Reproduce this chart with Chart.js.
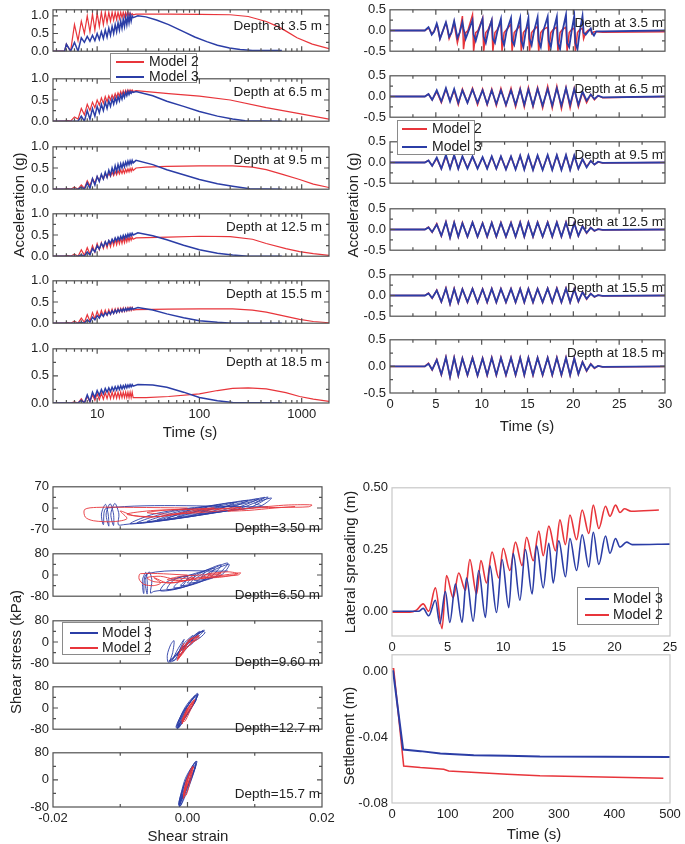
<!DOCTYPE html>
<html>
<head>
<meta charset="utf-8">
<script src="https://cdn.jsdelivr.net/npm/chart.js@4.4.1/dist/chart.umd.min.js"></script>
<style>
  body { margin: 0; background: #fff; font-family: "Liberation Sans", Arial, sans-serif; color: #222; }
  #page { position: relative; width: 685px; height: 844px; overflow: hidden; background: #fff; }
  #page canvas { position: absolute; }
  .lbl { position: absolute; white-space: nowrap; line-height: 1; }
  .legend { position: absolute; background: #fff; border: 1px solid #8a8a8a; box-sizing: border-box; }
  .legend div { position: absolute; }
  .legend span { position: absolute; white-space: nowrap; line-height: 1; font-size: 14px; transform: translateY(-50%); }
</style>
</head>
<body>
<div id="page"></div>
<script>
const RED = '#e8353b';
const BLUE = '#2b3da6';

// ---- top left: acceleration vs time (log), six depths ----
const depthsTop = ['3.5', '6.5', '9.5', '12.5', '15.5', '18.5'];
const tlLead = [[3.7, 0], [4.8, 0]];
const tlPeakT = [5, 6, 7, 8, 9, 10, 11, 12, 13, 14, 15, 16, 17, 18, 19, 20, 21, 22];
const tlTroughT = [5.5, 6.5, 7.5, 8.5, 9.5, 10.5, 11.5, 12.5, 13.5, 14.5, 15.5, 16.5, 17.5, 18.5, 19.5, 20.5, 21.5, 22.5];
const tlRedHi = [
  [0.2, 0.75, 0.85, 1.0, 1.05, 1.08, 1.1, 1.1, 1.1, 1.1, 1.1, 1.1, 1.1, 1.1, 1.1, 1.1, 1.08, 1.06],
  [0.02, 0.1, 0.3, 0.4, 0.45, 0.5, 0.55, 0.58, 0.6, 0.62, 0.65, 0.67, 0.7, 0.72, 0.73, 0.74, 0.74, 0.74],
  [0.02, 0.05, 0.1, 0.2, 0.25, 0.3, 0.33, 0.36, 0.38, 0.4, 0.42, 0.44, 0.45, 0.46, 0.47, 0.48, 0.49, 0.5],
  [0.02, 0.05, 0.15, 0.2, 0.25, 0.3, 0.32, 0.34, 0.36, 0.38, 0.4, 0.41, 0.42, 0.43, 0.44, 0.45, 0.45, 0.45],
  [0.02, 0.05, 0.12, 0.2, 0.25, 0.28, 0.3, 0.31, 0.32, 0.33, 0.34, 0.35, 0.35, 0.36, 0.36, 0.37, 0.37, 0.37],
  [0, 0.02, 0.08, 0.12, 0.15, 0.17, 0.18, 0.19, 0.2, 0.2, 0.2, 0.2, 0.2, 0.2, 0.2, 0.2, 0.2, 0.2]
];
const tlRedLo = [
  [0, 0.3, 0.5, 0.55, 0.6, 0.7, 0.75, 0.8, 0.85, 0.88, 0.9, 0.92, 0.95, 0.97, 1.0, 1.0, 1.02, 1.03],
  [0, 0.05, 0.15, 0.25, 0.32, 0.38, 0.42, 0.46, 0.5, 0.53, 0.56, 0.59, 0.62, 0.64, 0.66, 0.68, 0.7, 0.7],
  [0, 0, 0.02, 0.08, 0.15, 0.2, 0.24, 0.28, 0.3, 0.32, 0.34, 0.36, 0.37, 0.38, 0.4, 0.41, 0.42, 0.44],
  [0, 0, 0.02, 0.05, 0.1, 0.15, 0.18, 0.2, 0.22, 0.25, 0.27, 0.29, 0.3, 0.32, 0.34, 0.36, 0.38, 0.4],
  [0, 0, 0.02, 0.05, 0.1, 0.14, 0.17, 0.19, 0.21, 0.23, 0.25, 0.26, 0.27, 0.28, 0.29, 0.3, 0.3, 0.31],
  [0, 0, 0, 0.02, 0.05, 0.06, 0.07, 0.08, 0.08, 0.09, 0.09, 0.09, 0.1, 0.1, 0.1, 0.1, 0.1, 0.1]
];
const tlRedTail = [
  [[24, 1.05], [50, 1.05], [100, 1.04], [200, 1.03], [300, 0.98], [450, 0.84], [600, 0.68], [710, 0.56], [900, 0.38], [1270, 0.2], [1850, 0.07]],
  [[24, 0.72], [50, 0.65], [100, 0.59], [200, 0.5], [450, 0.32], [950, 0.18], [1850, 0.05]],
  [[24, 0.5], [30, 0.52], [48, 0.54], [100, 0.55], [211, 0.55], [330, 0.52], [450, 0.46], [650, 0.35], [955, 0.23], [1300, 0.12], [1850, 0.04]],
  [[24, 0.43], [50, 0.45], [100, 0.47], [200, 0.46], [330, 0.4], [450, 0.3], [700, 0.18], [955, 0.11], [1300, 0.06], [1850, 0.02]],
  [[24, 0.32], [50, 0.33], [100, 0.34], [211, 0.34], [330, 0.31], [450, 0.26], [700, 0.16], [955, 0.09], [1300, 0.04], [1850, 0.01]],
  [[23, 0.1], [30, 0.1], [50, 0.12], [100, 0.17], [150, 0.23], [211, 0.27], [300, 0.28], [450, 0.26], [700, 0.19], [955, 0.12], [1300, 0.07], [1850, 0.03]]
];
const tlBlueHi = [
  [0.2, 0.25, 0.38, 0.42, 0.45, 0.5, 0.55, 0.6, 0.65, 0.7, 0.75, 0.8, 0.85, 0.9, 0.95, 1.0, 1.02, 1.0],
  [0, 0, 0.12, 0.25, 0.3, 0.35, 0.4, 0.45, 0.48, 0.52, 0.55, 0.58, 0.62, 0.65, 0.68, 0.7, 0.7, 0.7],
  [0, 0, 0.05, 0.15, 0.25, 0.3, 0.35, 0.4, 0.45, 0.5, 0.55, 0.58, 0.6, 0.62, 0.64, 0.66, 0.67, 0.68],
  [0, 0, 0.03, 0.1, 0.18, 0.25, 0.3, 0.34, 0.37, 0.4, 0.43, 0.45, 0.47, 0.49, 0.5, 0.52, 0.53, 0.54],
  [0, 0, 0.02, 0.08, 0.14, 0.18, 0.22, 0.25, 0.27, 0.29, 0.31, 0.32, 0.33, 0.34, 0.35, 0.35, 0.36, 0.36],
  [0, 0, 0.05, 0.15, 0.2, 0.23, 0.25, 0.27, 0.28, 0.29, 0.3, 0.31, 0.32, 0.32, 0.33, 0.33, 0.34, 0.34]
];
const tlBlueLo = [
  [0, 0, 0.25, 0.28, 0.3, 0.33, 0.36, 0.4, 0.45, 0.5, 0.55, 0.6, 0.65, 0.7, 0.75, 0.8, 0.85, 0.95],
  [0, 0, 0, 0.05, 0.12, 0.2, 0.25, 0.3, 0.35, 0.4, 0.44, 0.48, 0.52, 0.56, 0.6, 0.63, 0.66, 0.68],
  [0, 0, 0, 0.02, 0.1, 0.18, 0.24, 0.28, 0.33, 0.38, 0.42, 0.46, 0.5, 0.53, 0.56, 0.58, 0.6, 0.62],
  [0, 0, 0, 0.03, 0.1, 0.17, 0.22, 0.26, 0.3, 0.33, 0.36, 0.38, 0.4, 0.42, 0.44, 0.46, 0.48, 0.5],
  [0, 0, 0, 0.02, 0.08, 0.12, 0.16, 0.19, 0.21, 0.23, 0.25, 0.27, 0.28, 0.29, 0.3, 0.31, 0.32, 0.33],
  [0, 0, 0, 0.03, 0.1, 0.14, 0.17, 0.2, 0.21, 0.23, 0.24, 0.25, 0.26, 0.27, 0.28, 0.29, 0.3, 0.31]
];
const tlBlueTail = [
  [[25, 1.0], [30, 0.97], [38, 0.88], [50, 0.75], [69, 0.56], [90, 0.4], [118, 0.27], [150, 0.17], [197, 0.09], [250, 0.05], [330, 0.02], [640, 0.02]],
  [[24, 0.7], [35, 0.6], [48, 0.47], [70, 0.35], [100, 0.23], [150, 0.12], [211, 0.05], [280, 0.01], [640, 0]],
  [[24, 0.68], [35, 0.58], [48, 0.46], [70, 0.34], [100, 0.23], [150, 0.13], [211, 0.07], [310, 0.01], [640, 0]],
  [[25, 0.55], [35, 0.48], [48, 0.39], [70, 0.26], [100, 0.15], [150, 0.07], [211, 0.03], [300, 0], [640, 0]],
  [[25, 0.37], [35, 0.31], [48, 0.22], [70, 0.13], [100, 0.06], [150, 0.02], [211, 0], [640, 0]],
  [[25, 0.34], [35, 0.33], [48, 0.29], [70, 0.2], [100, 0.1], [150, 0.04], [211, 0.01], [640, 0]]
];

// ---- top right: acceleration time histories ----
// 3.5 m has sharp spikes, so it is sampled on its own finer time list
const trTimesTop = [3.8,
  4.2, 4.32, 4.55, 4.8, 5.1, 5.22, 5.45, 5.7, 6.1, 6.22, 6.45, 6.7, 7.0, 7.12, 7.35, 7.6, 7.9, 8.02, 8.25, 8.5,
  9.0, 9.12, 9.35, 9.6, 10.1, 10.22, 10.45, 10.7, 11.1, 11.22, 11.45, 11.7, 12.1, 12.22, 12.45, 12.7, 13.2, 13.32, 13.55, 13.8,
  14.2, 14.32, 14.55, 14.8, 15.1, 15.22, 15.45, 15.7, 16.1, 16.22, 16.45, 16.7, 17.2, 17.32, 17.55, 17.8, 18.2, 18.32, 18.55, 18.8,
  19.2, 19.32, 19.55, 19.8, 20.1, 20.22, 20.45, 20.7, 21.0, 21.12, 21.35, 21.6, 21.9, 22.02, 22.25, 22.5,
  23.2];
const trRedTop = [0,
  0.06, 0.02, -0.08, -0.02, 0.12, 0.05, -0.2, -0.05, 0.18, 0.08, -0.2, -0.05, 0.2, 0, -0.3, -0.05, 0.35, -0.45, -0.05, 0,
  0.38, -0.5, -0.05, 0, 0.3, -0.5, -0.05, 0.02, 0.25, -0.5, -0.05, 0.02, 0.2, -0.5, -0.05, 0.02, 0.15, -0.5, -0.05, 0.02,
  0.12, -0.5, -0.05, 0.02, 0.1, -0.5, -0.05, 0.02, 0.1, -0.5, -0.05, 0.02, 0.08, -0.5, -0.05, 0.02, 0.08, -0.5, -0.05, 0.02,
  0.08, -0.5, -0.05, 0.02, 0.06, -0.5, -0.05, 0.02, 0.05, -0.2, -0.05, 0, 0.03, -0.08, -0.03, -0.03,
  -0.04];
const trBlueTop = [0,
  0.08, 0.03, -0.1, -0.03, 0.17, 0.08, -0.2, -0.05, 0.2, 0.1, -0.15, -0.05, 0.23, 0.1, -0.18, -0.05, 0.2, 0.05, -0.2, -0.05,
  0.25, -0.1, -0.25, -0.05, 0.28, -0.15, -0.3, -0.03, 0.25, -0.2, -0.3, -0.03, 0.28, -0.2, -0.35, -0.03, 0.3, -0.25, -0.35, -0.03,
  0.3, -0.25, -0.4, -0.03, 0.3, -0.2, -0.35, -0.03, 0.32, -0.25, -0.4, -0.03, 0.33, -0.25, -0.4, -0.03, 0.33, -0.3, -0.45, -0.03,
  0.38, -0.3, -0.4, -0.03, 0.35, -0.3, -0.45, -0.03, 0.35, -0.05, -0.1, -0.03, 0.05, -0.05, -0.12, -0.02,
  -0.02];
const trTimes = [3.8, 4.2, 4.6, 5.1, 5.6, 6.1, 6.55, 7.0, 7.45, 7.9, 8.45, 9.0, 9.55, 10.1, 10.6, 11.1, 11.6, 12.1, 12.65, 13.2, 13.7,
  14.2, 14.65, 15.1, 15.6, 16.1, 16.65, 17.2, 17.7, 18.2, 18.7, 19.2, 19.65, 20.1, 20.55, 21.0, 21.45, 21.9, 22.3, 22.7, 23.2];
const trEndRed = [-0.03, 0, 0, 0, 0, 0];
const trRed = [
  trRedTop,
  [0, 0.06, -0.08, 0.12, -0.15, 0.18, -0.1, 0.15, -0.2, 0.18, -0.15, 0.2, -0.2, 0.18, -0.2, 0.18, -0.22, 0.2, -0.22, 0.2, -0.25, 0.2, -0.25, 0.22, -0.25, 0.22, -0.28, 0.25, -0.28, 0.25, -0.3, 0.22, -0.28, 0.2, -0.25, 0.1, -0.15, 0.05, -0.08, 0.02, -0.03],
  [0, 0.05, -0.08, 0.1, -0.15, 0.15, -0.13, 0.17, -0.15, 0.14, -0.13, 0.14, -0.14, 0.12, -0.14, 0.14, -0.15, 0.14, -0.16, 0.14, -0.16, 0.16, -0.16, 0.16, -0.17, 0.16, -0.17, 0.17, -0.17, 0.17, -0.17, 0.17, -0.17, 0.16, -0.15, 0.08, -0.1, 0.04, -0.05, 0.01, -0.01],
  [0, 0.06, -0.07, 0.14, -0.16, 0.19, -0.2, 0.18, -0.18, 0.17, -0.18, 0.18, -0.18, 0.16, -0.18, 0.17, -0.18, 0.17, -0.18, 0.17, -0.18, 0.18, -0.18, 0.18, -0.18, 0.18, -0.18, 0.18, -0.18, 0.18, -0.18, 0.18, -0.18, 0.16, -0.16, 0.09, -0.09, 0.05, -0.04, 0.01, -0.01],
  [0, 0.06, -0.07, 0.13, -0.16, 0.18, -0.21, 0.17, -0.18, 0.16, -0.17, 0.17, -0.18, 0.16, -0.17, 0.17, -0.17, 0.17, -0.17, 0.17, -0.17, 0.17, -0.17, 0.17, -0.17, 0.17, -0.17, 0.18, -0.17, 0.18, -0.17, 0.18, -0.17, 0.16, -0.15, 0.09, -0.09, 0.05, -0.04, 0.01, -0.01],
  [0, 0.06, -0.07, 0.13, -0.16, 0.18, -0.21, 0.17, -0.18, 0.16, -0.17, 0.17, -0.18, 0.16, -0.17, 0.17, -0.17, 0.17, -0.17, 0.17, -0.17, 0.17, -0.17, 0.17, -0.17, 0.17, -0.17, 0.17, -0.17, 0.17, -0.17, 0.17, -0.17, 0.16, -0.15, 0.09, -0.09, 0.05, -0.04, 0.01, -0.01]
];
const trBlue = [
  trBlueTop,
  [0, 0.06, -0.08, 0.15, -0.12, 0.2, -0.12, 0.18, -0.15, 0.15, -0.15, 0.17, -0.15, 0.15, -0.18, 0.15, -0.18, 0.15, -0.2, 0.15, -0.2, 0.17, -0.2, 0.17, -0.22, 0.18, -0.22, 0.18, -0.22, 0.2, -0.22, 0.2, -0.2, 0.18, -0.2, 0.12, -0.1, 0.05, -0.06, 0.02, -0.02],
  [0, 0.05, -0.08, 0.12, -0.15, 0.18, -0.15, 0.18, -0.15, 0.15, -0.15, 0.15, -0.15, 0.13, -0.15, 0.15, -0.15, 0.15, -0.17, 0.15, -0.17, 0.17, -0.17, 0.17, -0.18, 0.17, -0.18, 0.18, -0.18, 0.18, -0.18, 0.18, -0.18, 0.17, -0.15, 0.08, -0.12, 0.04, -0.05, 0.02, -0.01],
  [0, 0.05, -0.06, 0.12, -0.15, 0.18, -0.2, 0.17, -0.17, 0.15, -0.17, 0.17, -0.17, 0.15, -0.17, 0.16, -0.17, 0.16, -0.17, 0.16, -0.17, 0.17, -0.17, 0.17, -0.17, 0.17, -0.17, 0.17, -0.17, 0.17, -0.17, 0.17, -0.17, 0.15, -0.15, 0.08, -0.08, 0.04, -0.03, 0.01, -0.01],
  [0, 0.05, -0.06, 0.12, -0.15, 0.17, -0.2, 0.16, -0.17, 0.15, -0.16, 0.16, -0.17, 0.15, -0.16, 0.16, -0.16, 0.16, -0.16, 0.16, -0.16, 0.16, -0.16, 0.16, -0.16, 0.16, -0.16, 0.17, -0.16, 0.17, -0.16, 0.17, -0.16, 0.15, -0.14, 0.08, -0.08, 0.04, -0.03, 0.01, -0.01],
  [0, 0.05, -0.06, 0.12, -0.15, 0.17, -0.2, 0.16, -0.17, 0.15, -0.16, 0.16, -0.17, 0.15, -0.16, 0.16, -0.16, 0.16, -0.16, 0.16, -0.16, 0.16, -0.16, 0.16, -0.16, 0.16, -0.16, 0.16, -0.16, 0.16, -0.16, 0.16, -0.16, 0.15, -0.14, 0.08, -0.08, 0.04, -0.03, 0.01, -0.01]
];
const trTimeLists = [trTimesTop, trTimes, trTimes, trTimes, trTimes, trTimes];

// ---- bottom left: shear stress (kPa) vs shear strain loops ----
const depthsLoop = ['3.50', '6.50', '9.60', '12.7', '15.7'];
const slBlue = [
  [[0.012, 4], [-0.012, 0], [-0.0125, -55], [-0.0128, -20], [-0.0122, 12], [-0.0118, -20], [-0.0117, -60], [-0.0121, -20], [-0.0115, 14],
   [-0.011, -20], [-0.011, -58], [-0.0114, -20], [-0.0108, 15], [-0.0102, -20], [-0.0103, -55],
   [-0.0095, -55], [-0.004, -38], [0.001, 0], [-0.005, -20], [-0.0085, -52], [-0.002, -33], [0.003, 5], [-0.003, -15],
   [-0.0075, -50], [0, -28], [0.005, 10], [-0.001, -10], [-0.006, -45], [0.002, -22], [0.007, 18], [0.001, -3],
   [-0.0045, -40], [0.004, -15], [0.009, 25], [0.003, 3], [-0.003, -35], [0.006, -8], [0.0105, 30], [0.005, 8],
   [-0.0015, -28], [0.0075, -3], [0.0115, 35], [0.007, 12], [0, -20], [0.009, 0], [0.012, 36], [0.0085, 15],
   [0.002, -12], [0.0105, 3], [0.0125, 33], [0.01, 15], [0.011, 8]],
  [[0.006, 15], [-0.006, 5], [-0.0065, -70], [-0.0067, -20], [-0.0062, 10], [-0.006, -20], [-0.006, -72], [-0.0063, -20], [-0.0057, 12],
   [-0.0053, -20], [-0.0055, -68], [-0.005, -62], [-0.001, -45], [0, -5], [-0.003, -25], [-0.004, -60], [0, -40], [0.001, 0], [-0.002, -18],
   [-0.003, -55], [0.001, -32], [0.0025, 12], [-0.0005, -10], [-0.002, -48], [0.002, -25], [0.004, 25], [0.001, 0], [-0.001, -40],
   [0.003, -15], [0.005, 38], [0.002, 8], [0, -30], [0.004, -8], [0.006, 45], [0.003, 15], [0.001, -20], [0.005, 0], [0.0062, 40],
   [0.004, 20], [0.002, -10]],
  [[0, 0], [-0.0028, -78], [-0.003, -50], [-0.0025, -10], [-0.002, 5], [-0.0022, -40], [-0.0026, -75], [-0.0018, -65], [-0.001, -20],
   [-0.0005, 10], [-0.0015, -30], [-0.0022, -70], [-0.0012, -55], [0, 0], [0.0008, 25], [-0.0005, -5], [-0.0015, -50], [-0.0005, -35],
   [0.001, 15], [0.0018, 40], [0.0008, 20], [-0.0005, -20], [0.0005, -10], [0.0018, 25], [0.0025, 45], [0.0015, 30], [0.0005, 5],
   [0.0015, 10], [0.0026, 35], [0.0022, 40], [0.001, 15], [-0.0008, -25], [-0.0024, -68], [-0.0028, -72], [-0.0016, -48], [0.0002, -5],
   [0.0016, 30], [0.0023, 42], [0.0012, 28], [-0.0004, -12], [-0.002, -55]],
  [[0, 0], [-0.0015, -78], [-0.0012, -60], [0, -20], [0.0012, 30], [0.0015, 55], [0.0012, 50], [0, 10], [-0.0008, -20], [-0.0016, -70],
   [-0.0013, -75], [-0.0002, -30], [0.001, 20], [0.0014, 45], [0.0008, 35], [-0.0002, 0], [-0.0012, -50], [-0.0015, -65], [-0.0008, -50],
   [0.0004, -5], [0.0013, 30], [0.0011, 40], [0, 5], [-0.0014, -72], [-0.0006, -45], [0.0006, 0], [0.0014, 40], [0.0016, 52],
   [0.0008, 40], [-0.0003, 5], [-0.0011, -35], [-0.0017, -70], [-0.0015, -78], [-0.0008, -55], [0.0002, -15], [0.0011, 25],
   [0.0015, 48], [0.0011, 45], [0.0002, 15], [-0.0006, -15], [-0.0013, -55], [-0.0016, -75]],
  [[0, 0], [-0.0012, -80], [-0.001, -60], [0, -15], [0.001, 30], [0.0013, 55], [0.001, 50], [0, 10], [-0.0006, -20], [-0.0013, -70],
   [-0.001, -75], [-0.0002, -30], [0.0008, 20], [0.0012, 45], [0.0006, 30], [-0.0003, -5], [-0.001, -50], [-0.0012, -65], [-0.0006, -45],
   [0.0004, 0], [0.0011, 35], [0.0009, 40], [0, 0], [-0.0012, -72], [-0.0005, -45], [0.0005, 0], [0.0012, 40], [0.0014, 55],
   [0.0007, 40], [-0.0003, 5], [-0.0009, -35], [-0.0013, -72], [-0.0011, -78], [-0.0005, -55], [0.0003, -15], [0.001, 25],
   [0.0013, 48], [0.0009, 45], [0.0001, 15], [-0.0005, -15], [-0.001, -55], [-0.0013, -75]]
];
const slRed = [
  [[0, 0], [-0.008, 2], [-0.0135, 2], [-0.0153, -5], [-0.0152, -30], [-0.014, -42], [-0.011, -45], [-0.009, -35], [-0.01, -10], [-0.008, -25],
   [-0.004, -28], [0, -12], [0.004, 0], [0, -5], [-0.005, -8], [-0.009, -20], [-0.006, -30], [-0.002, -22], [0.003, -8], [0.008, 2],
   [0.004, -3], [-0.002, -5], [-0.006, -15], [-0.003, -20], [0.002, -15], [0.007, -5], [0.012, 5], [0.015, 10], [0.0185, 10], [0.018, 4],
   [0.014, 2], [0.01, 0], [0.006, -10], [0.009, -8], [0.013, 0], [0.016, 5]],
  [[0, 0], [-0.007, 5], [-0.0072, -15], [-0.0065, -35], [-0.005, -40], [-0.004, -30], [-0.005, -10], [-0.003, -30], [-0.001, -25], [0.001, -10],
   [-0.002, -15], [-0.004, -5], [-0.006, -10], [-0.005, -25], [-0.002, -28], [0.002, -8], [0.005, 5], [0.002, 0], [-0.001, -5], [-0.003, -18],
   [0, -20], [0.004, -5], [0.007, 5], [0.0079, 8], [0.0075, 0], [0.005, -5], [0.002, -12], [0.005, -8], [0.0075, 5], [0.006, 12], [0.003, 5]],
  [[0, 0], [-0.0015, -70], [-0.0012, -40], [-0.0005, -5], [-0.001, -30], [-0.0014, -60], [-0.0006, -40], [0, -5], [0.0008, 15], [0, 0],
   [-0.0008, -30], [0, -20], [0.001, 10], [0.0017, 25], [0.0012, 20], [0, 5], [0.0008, 0], [0.0018, 18], [0.0006, 10], [-0.0010, -45],
   [-0.0013, -62], [-0.0004, -30], [0.0010, 5], [0.0015, 22]],
  [[0, 0], [-0.0008, -60], [-0.0005, -40], [0.0003, 0], [0.001, 30], [0.0008, 25], [0, -5], [-0.0007, -45], [-0.0004, -50], [0.0004, -10],
   [0.0009, 20], [0.0004, 10], [-0.0006, -40], [-0.0008, -55], [0, -20], [0.0008, 15], [0.0011, 32], [0.0006, 20], [-0.0002, -10], [-0.0009, -50]],
  [[0, 0], [-0.0006, -55], [-0.0003, -30], [0.0004, 10], [0.0008, 40], [0.0006, 35], [0, 0], [-0.0005, -40], [-0.0002, -45], [0.0004, -5],
   [0.0007, 25], [0.0002, 10], [-0.0004, -30], [-0.0006, -50], [0, -15], [0.0006, 20], [0.0009, 38], [0.0004, 25], [-0.0003, -10], [-0.0006, -45]]
];

// ---- bottom right: lateral spreading and settlement ----
const latModel3 = [[0, 0], [2.4, 0], [2.8, 0.012], [3.3, -0.018], [3.9, 0.045], [4.3, -0.05], [4.8, 0.08], [5.2, -0.045], [5.7, 0.11], [6.3, -0.045],
  [6.7, 0.135], [7.3, -0.04], [7.8, 0.165], [8.4, -0.025], [8.8, 0.185], [9.4, -0.005], [9.9, 0.21], [10.5, 0.015], [10.9, 0.235], [11.5, 0.045],
  [12.0, 0.25], [12.6, 0.07], [13.0, 0.265], [13.6, 0.095], [14.1, 0.275], [14.5, 0.115], [15.0, 0.285], [15.6, 0.14], [16.0, 0.295], [16.6, 0.165],
  [17.1, 0.31], [17.7, 0.18], [18.1, 0.32], [18.6, 0.19], [19.2, 0.305], [19.6, 0.235], [20.1, 0.295], [20.5, 0.26], [21.1, 0.28], [21.6, 0.27], [25, 0.272]];
const latModel2 = [[0, -0.004], [1.6, -0.004], [2.2, 0.005], [2.8, 0.03], [3.3, 0], [3.9, 0.095], [4.5, -0.07], [4.9, 0.145], [5.5, 0.055], [6.0, 0.155],
  [6.6, 0.085], [7.0, 0.21], [7.6, 0.07], [8.0, 0.205], [8.5, 0.115], [9.0, 0.24], [9.6, 0.135], [10.0, 0.255], [10.6, 0.165], [11.1, 0.28],
  [11.7, 0.185], [12.1, 0.3], [12.7, 0.205], [13.2, 0.325], [13.6, 0.225], [14.1, 0.345], [14.7, 0.245], [15.1, 0.37], [15.6, 0.27], [16.0, 0.39],
  [16.6, 0.29], [17.1, 0.41], [17.7, 0.315], [18.1, 0.43], [18.6, 0.335], [19.2, 0.425], [19.6, 0.385], [20.1, 0.43], [20.5, 0.4], [20.9, 0.415],
  [21.5, 0.405], [24, 0.41]];
const setModel3 = [[0, 0], [2, 0], [20, -0.0475], [51, -0.0485], [87, -0.05], [147, -0.051], [207, -0.0513], [266, -0.0518], [500, -0.052]];
const setModel2 = [[0, 0.0015], [3, 0.0015], [21, -0.0575], [51, -0.0585], [93, -0.0595], [102, -0.0605], [207, -0.0625], [266, -0.0635], [356, -0.064], [488, -0.065]];

// ---------------------------------------------------------------
const page = document.getElementById('page');
Chart.defaults.font.family = '"Liberation Sans", Arial, sans-serif';
Chart.defaults.font.size = 13;
Chart.defaults.color = '#222';

// box + inward tick marks, Origin style
const framePlugin = {
  id: 'frame',
  afterDatasetsDraw(chart, args, opts) {
    const { ctx, chartArea: a } = chart;
    const x = chart.scales.x, y = chart.scales.y;
    ctx.save();
    ctx.strokeStyle = opts.color || '#505050';
    ctx.lineWidth = 1.2;
    ctx.strokeRect(a.left, a.top, a.right - a.left, a.bottom - a.top);
    if (opts.marks) {
      ctx.beginPath();
      const onX = (vals, len) => vals.forEach(v => {
        const p = x.getPixelForValue(v);
        if (p <= a.left + 1 || p >= a.right - 1) return;
        ctx.moveTo(p, a.bottom); ctx.lineTo(p, a.bottom - len);
        ctx.moveTo(p, a.top); ctx.lineTo(p, a.top + len);
      });
      const onY = (vals, len) => vals.forEach(v => {
        const p = y.getPixelForValue(v);
        if (p <= a.top + 1 || p >= a.bottom - 1) return;
        ctx.moveTo(a.left, p); ctx.lineTo(a.left + len, p);
        ctx.moveTo(a.right, p); ctx.lineTo(a.right - len, p);
      });
      onX(x.ticks.map(t => t.value), 5);
      onX(opts.xMinor || [], 3);
      onY(y.ticks.map(t => t.value), 5);
      onY(opts.yMinor || [], 3);
      ctx.stroke();
    }
    ctx.restore();
  }
};
Chart.register(framePlugin);

function makePlot(box, o) {
  const padT = 10, padR = 22, yW = o.yW, xH = o.xH || 0;
  const W = box.w + yW + padR, H = box.h + padT + xH;
  const cv = document.createElement('canvas');
  cv.width = W; cv.height = H;
  cv.style.width = W + 'px'; cv.style.height = H + 'px';
  cv.style.left = (box.l - yW) + 'px';
  cv.style.top = (box.t - padT) + 'px';
  page.appendChild(cv);
  const axis = (a, isX) => ({
    type: a.type || 'linear', min: a.min, max: a.max,
    grid: { display: false, drawTicks: false },
    border: { display: false },
    ticks: { display: a.labels !== false, padding: 4, autoSkip: false, maxRotation: 0, callback: a.fmt },
    afterBuildTicks: s => { s.ticks = a.ticks.map(v => ({ value: v })); },
    afterFit: s => { if (isX) s.height = xH; else s.width = yW; }
  });
  return new Chart(cv, {
    type: 'line',
    data: { datasets: o.datasets },
    options: {
      responsive: false, animation: false, devicePixelRatio: 1, events: [],
      layout: { padding: { top: padT, right: padR, left: 0, bottom: 0 }, autoPadding: false },
      elements: { point: { radius: 0 }, line: { tension: 0, fill: false } },
      plugins: {
        legend: { display: false }, tooltip: { enabled: false },
        frame: { xMinor: o.x.minor, yMinor: o.y.minor, color: o.frameColor, marks: o.marks !== false }
      },
      scales: { x: axis(o.x, true), y: axis(o.y, false) }
    }
  });
}

// note: Chart.js paints dataset 0 on top
function line(data, color, width, extra) {
  return Object.assign({ data: data, borderColor: color, borderWidth: width, pointRadius: 0 }, extra || {});
}
const pts = arr => arr.map(p => ({ x: p[0], y: p[1] }));

function text(str, x, y, o) {
  o = o || {};
  const d = document.createElement('div');
  d.className = 'lbl';
  d.textContent = str;
  d.style.left = x + 'px';
  d.style.top = y + 'px';
  d.style.fontSize = (o.size || 15) + 'px';
  const tx = o.align === 'right' ? '-100%' : '-50%';
  d.style.transform = 'translate(' + tx + ',-50%)' + (o.rot ? ' rotate(-90deg)' : '');
  page.appendChild(d);
}

function legend(box, rows) {
  const d = document.createElement('div');
  d.className = 'legend';
  d.style.left = box.l + 'px'; d.style.top = box.t + 'px';
  d.style.width = box.w + 'px'; d.style.height = box.h + 'px';
  rows.forEach(r => {
    const ln = document.createElement('div');
    ln.style.left = (r.x0 - box.l) + 'px';
    ln.style.top = (r.y - box.t - 1) + 'px';
    ln.style.width = (r.x1 - r.x0) + 'px';
    ln.style.height = '2px';
    ln.style.background = r.color;
    d.appendChild(ln);
    const s = document.createElement('span');
    s.textContent = r.label;
    s.style.left = (r.tx - box.l) + 'px';
    s.style.top = (r.y - box.t - 1) + 'px';
    d.appendChild(s);
  });
  page.appendChild(d);
}

// ---- top left panels ----
const tlTops = [8, 77, 145, 212, 279, 347];
const logMinor = [4, 5, 6, 7, 8, 9, 20, 30, 40, 50, 60, 70, 80, 90, 200, 300, 400, 500, 600, 700, 800, 900];
function tlSeries(i, hi, lo, tail) {
  const out = pts(tlLead);
  tlPeakT.forEach((t, k) => { out.push({ x: t, y: hi[i][k] }, { x: tlTroughT[k], y: lo[i][k] }); });
  return out.concat(pts(tail[i]));
}
depthsTop.forEach((d, i) => {
  const last = i === depthsTop.length - 1;
  const h = i === 0 ? 55 : 56;
  makePlot({ l: 53, t: tlTops[i], w: 276, h: h }, {
    yW: 53, xH: last ? 22 : 0,
    x: { type: 'logarithmic', min: 3.7, max: 1850, ticks: [10, 100, 1000], minor: logMinor, labels: last, fmt: v => String(v) },
    y: { min: 0, max: i === 0 ? 1.17 : 1.0, ticks: [0, 0.5, 1.0], minor: [0.25, 0.75], fmt: v => v.toFixed(1) },
    datasets: [
      line(tlSeries(i, tlBlueHi, tlBlueLo, tlBlueTail), BLUE, 1.5),
      line(tlSeries(i, tlRedHi, tlRedLo, tlRedTail), RED, 1.2)
    ]
  });
  text('Depth at ' + d + ' m', 322, tlTops[i] + (i === 0 ? 18 : 15), { size: 13.5, align: 'right' });
});

// ---- top right panels ----
const trTops = [8, 74, 140, 207, 273, 338];
function trSeries(times, vals, end) {
  return [{ x: 0, y: 0 }].concat(times.map((t, k) => ({ x: t, y: vals[k] })), [{ x: 30, y: end }]);
}
depthsTop.forEach((d, i) => {
  const last = i === depthsTop.length - 1;
  makePlot({ l: 390, t: trTops[i], w: 275, h: 55 }, {
    yW: 50, xH: last ? 22 : 0,
    x: { min: 0, max: 30, ticks: [0, 5, 10, 15, 20, 25, 30], minor: [2.5, 7.5, 12.5, 17.5, 22.5, 27.5], labels: last, fmt: v => String(v) },
    y: { min: -0.5, max: 0.5, ticks: [-0.5, 0, 0.5], minor: [-0.25, 0.25], fmt: v => v.toFixed(1) },
    datasets: [
      line(trSeries(trTimeLists[i], trBlue[i], 0), BLUE, 1.8),
      line(trSeries(trTimeLists[i], trRed[i], trEndRed[i]), RED, 1.5)
    ]
  });
  text('Depth at ' + d + ' m', 663, trTops[i] + 15, { size: 13.5, align: 'right' });
});

// ---- bottom left panels ----
const slTops = [485, 552, 619, 685, 751];
depthsLoop.forEach((d, i) => {
  const last = i === depthsLoop.length - 1;
  const lim = i === 0 ? 70 : 80;
  makePlot({ l: 53, t: slTops[i], w: 269, h: 56 }, {
    yW: 53, xH: last ? 22 : 0,
    x: { min: -0.02, max: 0.02, ticks: [-0.02, 0, 0.02], minor: [-0.01, 0.01], labels: last, fmt: v => v.toFixed(2) },
    y: { min: -lim, max: lim, ticks: [-lim, 0, lim], minor: [-lim / 2, lim / 2], fmt: v => String(v) },
    datasets: [
      line(pts(slRed[i]), RED, 0.9, { tension: 0.3 }),
      line(pts(slBlue[i]), BLUE, 0.9, { tension: 0.3 })
    ]
  });
  text('Depth=' + d + ' m', 320, slTops[i] + 43, { size: 13.5, align: 'right' });
});

// ---- bottom right panels ----
makePlot({ l: 392, t: 486, w: 278, h: 150 }, {
  yW: 54, xH: 22, frameColor: '#c8c8c8', marks: false,
  x: { min: 0, max: 25, ticks: [0, 5, 10, 15, 20, 25], fmt: v => String(v) },
  y: { min: -0.1, max: 0.5, ticks: [0, 0.25, 0.5], fmt: v => v.toFixed(2) },
  datasets: [
    line(pts(latModel3), BLUE, 1.6, { cubicInterpolationMode: 'monotone' }),
    line(pts(latModel2), RED, 1.6, { cubicInterpolationMode: 'monotone' })
  ]
});
makePlot({ l: 392, t: 653, w: 278, h: 150 }, {
  yW: 54, xH: 22, frameColor: '#c8c8c8', marks: false,
  x: { min: 0, max: 500, ticks: [0, 100, 200, 300, 400, 500], fmt: v => String(v) },
  y: { min: -0.08, max: 0.01, ticks: [-0.08, -0.04, 0], fmt: v => v.toFixed(2) },
  datasets: [
    line(pts(setModel3), BLUE, 2),
    line(pts(setModel2), RED, 1.5)
  ]
});

// ---- axis titles ----
text('Acceleration (g)', 18, 205, { rot: true });
text('Time (s)', 190, 431);
text('Acceleration (g)', 352, 205, { rot: true });
text('Time (s)', 527, 425);
text('Shear stress (kPa)', 15, 652, { rot: true });
text('Shear strain', 188, 835);
text('Lateral spreading (m)', 349, 562, { rot: true });
text('Settlement (m)', 348, 736, { rot: true });
text('Time (s)', 534, 833);

// ---- legends ----
legend({ l: 110, t: 53, w: 87, h: 30 }, [
  { label: 'Model 2', color: RED, y: 61, x0: 115, x1: 143, tx: 148 },
  { label: 'Model 3', color: BLUE, y: 76, x0: 115, x1: 143, tx: 148 }
]);
legend({ l: 397, t: 120, w: 78, h: 35 }, [
  { label: 'Model 2', color: RED, y: 128, x0: 401, x1: 426, tx: 431 },
  { label: 'Model 3', color: BLUE, y: 146, x0: 401, x1: 426, tx: 431 }
]);
legend({ l: 62, t: 622, w: 88, h: 33 }, [
  { label: 'Model 3', color: BLUE, y: 632, x0: 69, x1: 97, tx: 101 },
  { label: 'Model 2', color: RED, y: 647, x0: 69, x1: 97, tx: 101 }
]);
legend({ l: 577, t: 587, w: 82, h: 38 }, [
  { label: 'Model 3', color: BLUE, y: 598, x0: 584, x1: 608, tx: 612 },
  { label: 'Model 2', color: RED, y: 614, x0: 584, x1: 608, tx: 612 }
]);
</script>
</body>
</html>
